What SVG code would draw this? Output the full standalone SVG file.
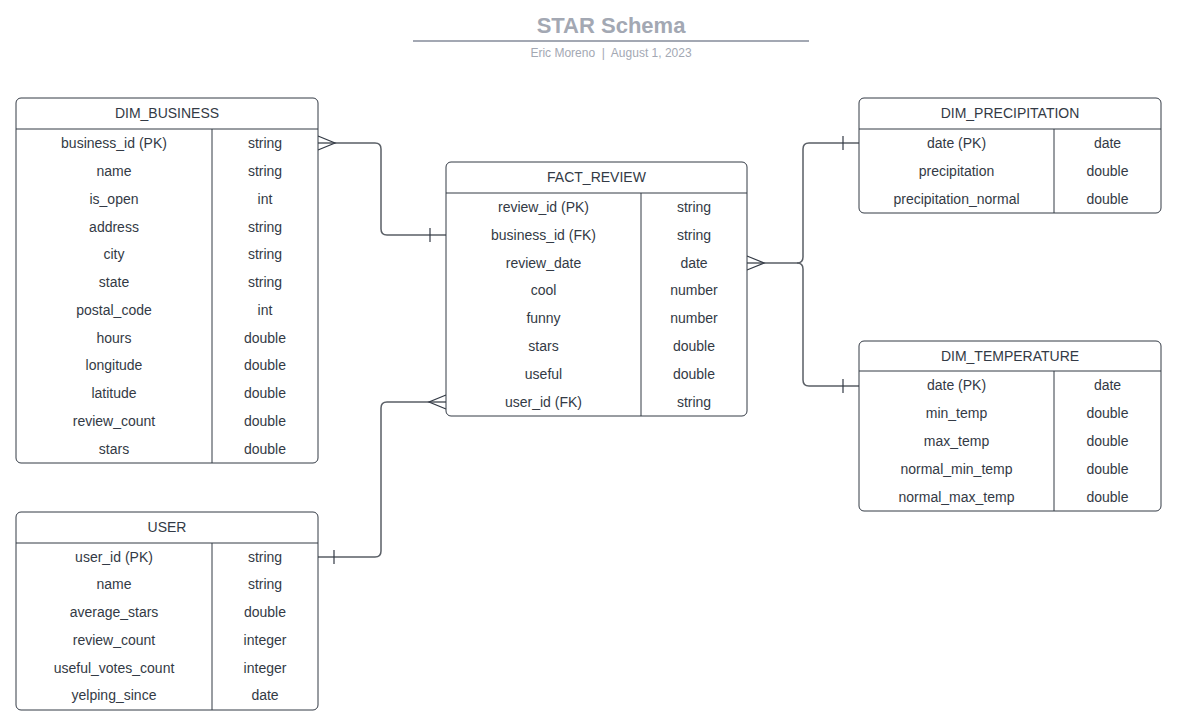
<svg xmlns="http://www.w3.org/2000/svg" width="1186" height="728" viewBox="0 0 1186 728">
<style>
.box{fill:#fff;stroke:#333a45;stroke-width:1}
.ln{stroke:#333a45;stroke-width:1;fill:none}
.t{font-family:"Liberation Sans",Arial,sans-serif;font-size:14px;fill:#333a45;text-anchor:middle}
.con{stroke:#5a5f66;stroke-width:1.5;fill:none}
.mk{stroke:#333a45;stroke-width:1.2;fill:none}
</style>
<rect width="1186" height="728" fill="#fff"/>
<g id="title">
<text x="611" y="33" style="font-family:'Liberation Sans',Arial,sans-serif;font-size:22px;font-weight:bold;fill:#a3a8b3;text-anchor:middle">STAR Schema</text>
<line x1="413" y1="41" x2="809" y2="41" stroke="#a3a8b3" stroke-width="2"/>
<text x="611" y="57" xml:space="preserve" style="font-family:'Liberation Sans',Arial,sans-serif;font-size:12px;fill:#a3a8b3;text-anchor:middle;white-space:pre">Eric Moreno  |  August 1, 2023</text>
</g>
<g id="connectors">
<path class="con" d="M318 143 H375 Q381 143 381 149 V229 Q381 235 387 235 H446"/>
<line class="mk" x1="430" y1="228" x2="430" y2="242"/>
<path class="mk" d="M318 136 L335 143 L318 150"/>
<path class="con" d="M747 263 H797 Q803 263 803 257 V149 Q803 143 809 143 H859"/>
<path class="con" d="M797 263 Q803 263 803 269 V380 Q803 386 809 386 H859"/>
<line class="mk" x1="843" y1="136" x2="843" y2="150"/>
<line class="mk" x1="843" y1="379" x2="843" y2="393"/>
<path class="mk" d="M747 256 L764 263 L747 270"/>
<path class="con" d="M446 402 H387 Q381 402 381 408 V551 Q381 557 375 557 H318"/>
<path class="mk" d="M446 395 L429 402 L446 409"/>
<line class="mk" x1="334" y1="550" x2="334" y2="564"/>
</g>
<g id="DIM_BUSINESS">
<rect class="box" x="16" y="98" width="302" height="365" rx="5"/>
<line class="ln" x1="16" y1="129" x2="318" y2="129"/>
<line class="ln" x1="212" y1="129" x2="212" y2="463"/>
<text class="t" x="167" y="118">DIM_BUSINESS</text>
<text class="t" x="114" y="148">business_id (PK)</text><text class="t" x="265" y="148">string</text>
<text class="t" x="114" y="176">name</text><text class="t" x="265" y="176">string</text>
<text class="t" x="114" y="204">is_open</text><text class="t" x="265" y="204">int</text>
<text class="t" x="114" y="232">address</text><text class="t" x="265" y="232">string</text>
<text class="t" x="114" y="259">city</text><text class="t" x="265" y="259">string</text>
<text class="t" x="114" y="287">state</text><text class="t" x="265" y="287">string</text>
<text class="t" x="114" y="315">postal_code</text><text class="t" x="265" y="315">int</text>
<text class="t" x="114" y="343">hours</text><text class="t" x="265" y="343">double</text>
<text class="t" x="114" y="370">longitude</text><text class="t" x="265" y="370">double</text>
<text class="t" x="114" y="398">latitude</text><text class="t" x="265" y="398">double</text>
<text class="t" x="114" y="426">review_count</text><text class="t" x="265" y="426">double</text>
<text class="t" x="114" y="454">stars</text><text class="t" x="265" y="454">double</text>
</g>
<g id="FACT_REVIEW">
<rect class="box" x="446" y="162" width="301" height="254" rx="5"/>
<line class="ln" x1="446" y1="193" x2="747" y2="193"/>
<line class="ln" x1="641" y1="193" x2="641" y2="416"/>
<text class="t" x="596.5" y="182">FACT_REVIEW</text>
<text class="t" x="543.5" y="212">review_id (PK)</text><text class="t" x="694" y="212">string</text>
<text class="t" x="543.5" y="240">business_id (FK)</text><text class="t" x="694" y="240">string</text>
<text class="t" x="543.5" y="268">review_date</text><text class="t" x="694" y="268">date</text>
<text class="t" x="543.5" y="295">cool</text><text class="t" x="694" y="295">number</text>
<text class="t" x="543.5" y="323">funny</text><text class="t" x="694" y="323">number</text>
<text class="t" x="543.5" y="351">stars</text><text class="t" x="694" y="351">double</text>
<text class="t" x="543.5" y="379">useful</text><text class="t" x="694" y="379">double</text>
<text class="t" x="543.5" y="407">user_id (FK)</text><text class="t" x="694" y="407">string</text>
</g>
<g id="DIM_PRECIPITATION">
<rect class="box" x="859" y="98" width="302" height="115" rx="5"/>
<line class="ln" x1="859" y1="129" x2="1161" y2="129"/>
<line class="ln" x1="1054" y1="129" x2="1054" y2="213"/>
<text class="t" x="1010" y="118">DIM_PRECIPITATION</text>
<text class="t" x="956.5" y="148">date (PK)</text><text class="t" x="1107.5" y="148">date</text>
<text class="t" x="956.5" y="176">precipitation</text><text class="t" x="1107.5" y="176">double</text>
<text class="t" x="956.5" y="204">precipitation_normal</text><text class="t" x="1107.5" y="204">double</text>
</g>
<g id="DIM_TEMPERATURE">
<rect class="box" x="859" y="341" width="302" height="170" rx="5"/>
<line class="ln" x1="859" y1="371" x2="1161" y2="371"/>
<line class="ln" x1="1054" y1="371" x2="1054" y2="511"/>
<text class="t" x="1010" y="361">DIM_TEMPERATURE</text>
<text class="t" x="956.5" y="390">date (PK)</text><text class="t" x="1107.5" y="390">date</text>
<text class="t" x="956.5" y="418">min_temp</text><text class="t" x="1107.5" y="418">double</text>
<text class="t" x="956.5" y="446">max_temp</text><text class="t" x="1107.5" y="446">double</text>
<text class="t" x="956.5" y="474">normal_min_temp</text><text class="t" x="1107.5" y="474">double</text>
<text class="t" x="956.5" y="502">normal_max_temp</text><text class="t" x="1107.5" y="502">double</text>
</g>
<g id="USER">
<rect class="box" x="16" y="512" width="302" height="198" rx="5"/>
<line class="ln" x1="16" y1="543" x2="318" y2="543"/>
<line class="ln" x1="212" y1="543" x2="212" y2="710"/>
<text class="t" x="167" y="532">USER</text>
<text class="t" x="114" y="562">user_id (PK)</text><text class="t" x="265" y="562">string</text>
<text class="t" x="114" y="589">name</text><text class="t" x="265" y="589">string</text>
<text class="t" x="114" y="617">average_stars</text><text class="t" x="265" y="617">double</text>
<text class="t" x="114" y="645">review_count</text><text class="t" x="265" y="645">integer</text>
<text class="t" x="114" y="673">useful_votes_count</text><text class="t" x="265" y="673">integer</text>
<text class="t" x="114" y="700">yelping_since</text><text class="t" x="265" y="700">date</text>
</g>
</svg>
